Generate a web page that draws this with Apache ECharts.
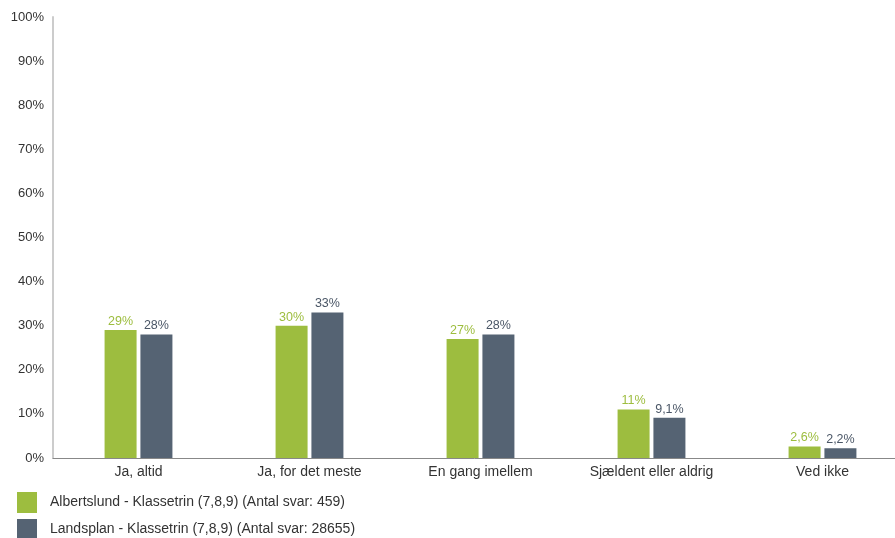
<!DOCTYPE html>
<html>
<head>
<meta charset="utf-8">
<script src="https://cdn.jsdelivr.net/npm/echarts@6/dist/echarts.min.js"></script>
<style>
html,body{margin:0;padding:0;background:#fff;}
#chart{width:895px;height:538px;}
</style>
</head>
<body>
<div id="chart"></div>
<script>
const categories = ["Ja, altid", "Ja, for det meste", "En gang imellem", "Sjældent eller aldrig", "Ved ikke"];
const albertslund = [29, 30, 27, 11, 2.6];
const landsplan = [28, 33, 28, 9.1, 2.2];
const seriesNames = ["Albertslund - Klassetrin (7,8,9) (Antal svar: 459)", "Landsplan - Klassetrin (7,8,9) (Antal svar: 28655)"];
const yTicks = [0, 10, 20, 30, 40, 50, 60, 70, 80, 90, 100];

const fmt = v => String(v).replace('.', ',') + '%';
const font = 'Liberation Sans, Arial, sans-serif';

const legendBase = {
  orient: 'vertical', left: 17, padding: 0, itemWidth: 20, itemHeight: 21,
  icon: 'rect',
  textStyle: {fontFamily: font, fontSize: 14, color: '#333', padding: [0, 0, 0, 8]}
};

const chart = echarts.init(document.getElementById('chart'));
chart.setOption({
  animation: false,
  textStyle: {fontFamily: font},
  grid: {left: 53, top: 17, right: -13, bottom: 80, containLabel: false, outerBoundsMode: 'none'},
  legend: [
    Object.assign({}, legendBase, {top: 492, data: [seriesNames[0]]}),
    Object.assign({}, legendBase, {top: 519, data: [seriesNames[1]]})
  ],
  xAxis: {
    type: 'category', data: categories,
    axisLine: {lineStyle: {color: '#888', width: 1}},
    axisTick: {show: false},
    axisLabel: {color: '#333', fontSize: 14, margin: 7, fontFamily: font}
  },
  yAxis: {
    type: 'value', min: 0, max: 100, interval: 10,
    axisLine: {show: true, lineStyle: {color: '#ccc', width: 2}},
    axisTick: {show: false},
    splitLine: {show: false},
    axisLabel: {color: '#333', fontSize: 13, margin: 9, fontFamily: font,
      formatter: v => yTicks.includes(v) ? v + '%' : ''}
  },
  series: [
    {name: seriesNames[0], type: 'bar', data: albertslund, barWidth: 32, barGap: '12%',
      itemStyle: {color: '#9dbd3f'},
      label: {show: true, position: 'top', distance: 2, color: '#9dbd3f', fontSize: 12.5, fontFamily: font,
        formatter: p => fmt(p.value)}},
    {name: seriesNames[1], type: 'bar', data: landsplan, barWidth: 32,
      itemStyle: {color: '#556373'},
      label: {show: true, position: 'top', distance: 2, color: '#4a5666', fontSize: 12.5, fontFamily: font,
        formatter: p => fmt(p.value)}}
  ]
});
</script>
</body>
</html>
